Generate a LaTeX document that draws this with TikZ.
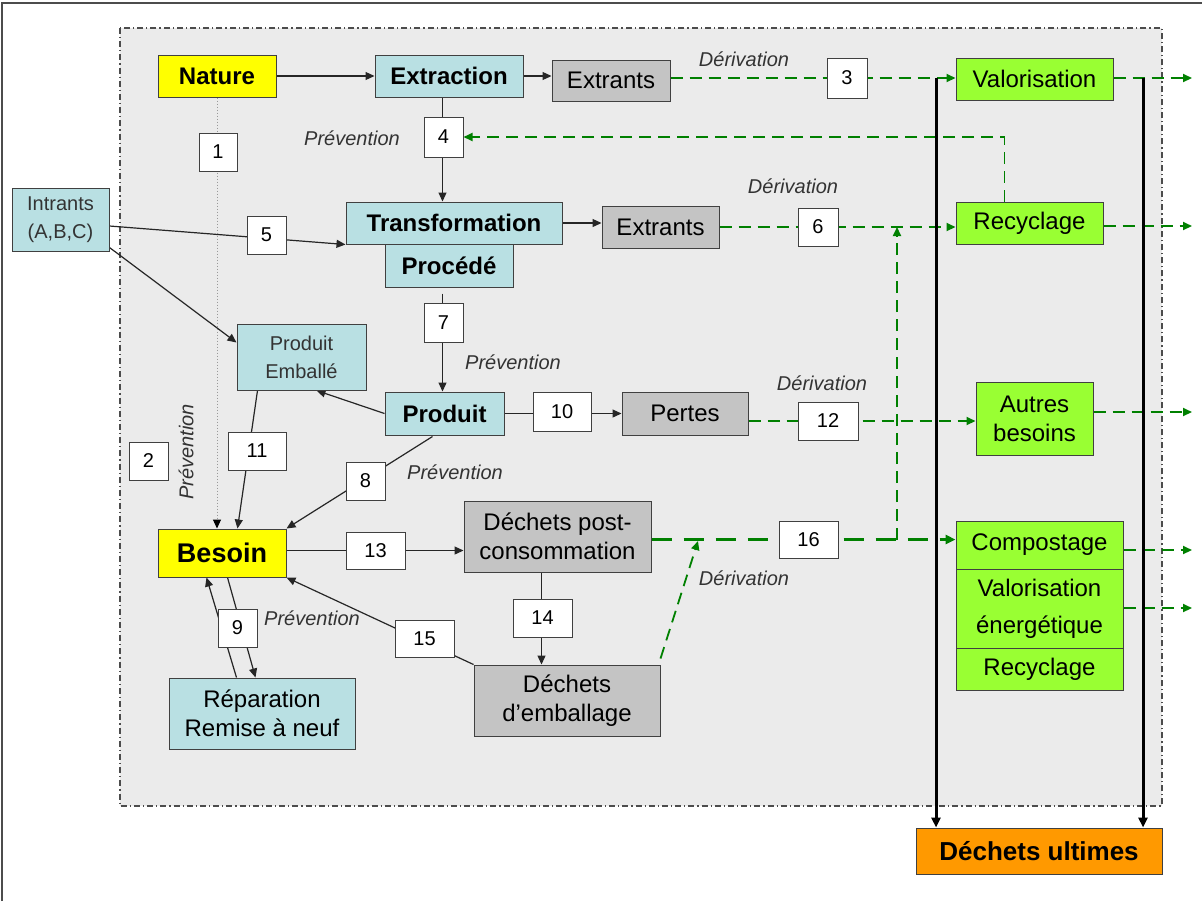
\documentclass[tikz,border=0pt]{standalone}
\usepackage{fontspec}
\setmainfont{Liberation Sans}
\usetikzlibrary{arrows.meta,calc}
\pgfdeclarelayer{bg}
\pgfdeclarelayer{edges}
\pgfsetlayers{bg,edges,main}

\definecolor{yfill}{HTML}{FFFF00}
\definecolor{bfill}{HTML}{B9E0E3}
\definecolor{gfill}{HTML}{C4C4C4}
\definecolor{lfill}{HTML}{99FF33}
\definecolor{ofill}{HTML}{FF9900}
\definecolor{zone}{HTML}{EBEBEB}
\definecolor{dgreen}{HTML}{008000}

% \dbox{style}{name}{left}{top}{right}{bottom}{text}
\newcommand\dbox[7]{%
  \node[#1, minimum width={(#5-#3)*0.5pt}, minimum height={(#6-#4)*0.5pt}]
    (#2) at ({(#3+#5)/2},{(#4+#6)/2}) {#7};}

\begin{document}
\begin{tikzpicture}[x=0.5pt,y=-0.5pt,
  box/.style={draw=black!75, line width=0.5pt, inner sep=1pt, align=center, text=black},
  numbox/.style={box, fill=white, font=\fontsize{10}{12}\selectfont},
  yellowbox/.style={box, fill=yfill, font=\bfseries\fontsize{12}{14}\selectfont},
  bluebold/.style={box, fill=bfill, font=\bfseries\fontsize{12}{14}\selectfont},
  bluesmall/.style={box, fill=bfill, text=black!80, font=\fontsize{10}{14}\selectfont},
  bluebox/.style={box, fill=bfill, font=\fontsize{12}{14.5}\selectfont},
  greybox/.style={box, fill=gfill, font=\fontsize{12}{14.5}\selectfont},
  greenbox/.style={box, fill=lfill, font=\fontsize{12}{14.5}\selectfont},
  orangebox/.style={box, fill=ofill, font=\bfseries\fontsize{13}{15}\selectfont},
  lab/.style={inner sep=0pt, text=black!80, font=\itshape\fontsize{10}{12}\selectfont},
  conn/.style={draw=black!85, line width=0.6pt},
  arr/.style={conn, -{Triangle[length=4.5pt,width=4pt]}},
  dotline/.style={draw=black!40, line width=0.5pt, dash pattern=on 0.5pt off 1pt,
    -{Triangle[length=4.5pt,width=4pt,color=black]}},
  gdash/.style={draw=dgreen, line width=0.9pt, dash pattern=on 6pt off 3.5pt},
  garr/.style={gdash, -{Triangle[length=4.5pt,width=4pt]}},
  gthick/.style={draw=dgreen, line width=1.6pt, dash pattern=on 10pt off 6pt,
    -{Triangle[length=5pt,width=4.5pt]}},
  bigarr/.style={draw=black, line width=1.5pt, -{Triangle[length=5pt,width=4.5pt]}},
  zoneborder/.style={draw=black!70, line width=0.6pt,
    dash pattern=on 3pt off 1.5pt on 0.6pt off 1.5pt},
  frame/.style={draw=black!70, line width=0.8pt}
]
\useasboundingbox (0,0) rectangle (1202,901);

% ---- boxes ----
\dbox{yellowbox}{nature}{158}{55}{276}{97}{Nature}
\dbox{bluebold}{extr}{375}{55}{523}{97}{Extraction}
\dbox{greybox}{ext1}{552}{60}{670}{101}{Extrants}
\dbox{numbox}{b3}{827}{58}{867}{98}{3}
\dbox{greenbox}{valo}{956}{58}{1113}{100}{Valorisation}
\dbox{numbox}{b4}{424}{117}{463}{157}{4}
\dbox{numbox}{b1}{199}{133}{237}{171}{1}
\dbox{bluesmall}{intr}{12}{188}{109}{251}{Intrants\\(A,B,C)}
\dbox{bluebold}{trans}{346}{202}{562}{244}{Transformation}
\dbox{bluebold}{proc}{385}{244}{513}{287}{Procédé}
\dbox{greybox}{ext2}{602}{206}{719}{248}{Extrants}
\dbox{numbox}{b5}{247}{216}{286}{254}{5}
\dbox{numbox}{b6}{798}{208}{838}{246}{6}
\dbox{greenbox}{rec1}{956}{202}{1103}{244}{Recyclage}
\dbox{bluesmall}{pemb}{237}{324}{366}{390}{Produit\\Emballé}
\dbox{numbox}{b7}{424}{303}{463}{342}{7}
\dbox{bluebold}{produit}{385}{392}{504}{435}{Produit}
\dbox{numbox}{b10}{533}{392}{591}{431}{10}
\dbox{greybox}{pertes}{622}{392}{748}{435}{Pertes}
\dbox{numbox}{b12}{798}{402}{858}{440}{12}
\dbox{greenbox}{autres}{976}{382}{1093}{455}{Autres\\besoins}
\dbox{numbox}{b2}{129}{442}{168}{480}{2}
\dbox{numbox}{b11}{228}{432}{286}{470}{11}
\dbox{numbox}{b8}{346}{462}{385}{500}{8}
\dbox{yellowbox, font=\bfseries\fontsize{13.5}{15}\selectfont}{besoin}{158}{529}{286}{577}{Besoin}
\dbox{numbox}{b13}{346}{532}{405}{569}{13}
\dbox{greybox}{dpost}{464}{501}{651}{572}{Déchets post-\\consommation}
\dbox{numbox}{b16}{779}{521}{838}{558}{16}
\dbox{numbox}{b14}{513}{599}{572}{637}{14}
\dbox{numbox}{b15}{395}{620}{454}{657}{15}
\dbox{numbox}{b9}{218}{609}{257}{647}{9}
\dbox{greybox}{demb}{474}{665}{660}{736}{Déchets\\d’emballage}
\dbox{bluebox}{rep}{169}{678}{355}{749}{Réparation\\Remise à neuf}
\dbox{greenbox}{comp}{956}{521}{1123}{569}{Compostage}
\dbox{greenbox, font=\fontsize{12}{18.5}\selectfont}{valen}{956}{569}{1123}{648}{Valorisation\\énergétique}
\dbox{greenbox}{rec2}{956}{648}{1123}{690}{Recyclage}
\dbox{orangebox}{ult}{916}{828}{1162}{874}{Déchets ultimes}

% ---- labels ----
\node[lab] (lp1) at (352,138) {Prévention};
\node[lab] (ld1) at (744,59) {Dérivation};
\node[lab] (ld2) at (793,186) {Dérivation};
\node[lab] (lp2) at (513,362) {Prévention};
\node[lab] (ld3) at (822,383) {Dérivation};
\node[lab, rotate=90] (lp3) at (186,452) {Prévention};
\node[lab] (lp4) at (455,472) {Prévention};
\node[lab] (lp5) at (312,618) {Prévention};
\node[lab] (ld4) at (744,578) {Dérivation};

% ---- free ends ----
\coordinate (out1) at (1192,78);
\coordinate (out2) at (1192,226);
\coordinate (out3) at (1192,412);
\coordinate (out4) at (1192,550);
\coordinate (out5) at (1192,608);
\coordinate (vl1) at (936,78);
\coordinate (vl2) at (1143,78);
\coordinate (vsplit) at (897,540);
\coordinate (dmerge) at (698,541);

% ---- background zone and frame ----
\begin{pgfonlayer}{bg}
  \fill[zone] (120,28) rectangle (1162,806);
  \draw[zoneborder] (120,28) rectangle (1162,806);
  \draw[frame] (2,901) -- (2,3) -- (1202,3);
\end{pgfonlayer}

% ---- connectors ----
\begin{pgfonlayer}{edges}
  % main chain
  \draw[arr] (nature) -- (extr);
  \draw[arr] (extr.east) -- (extr.east -| ext1.west);
  \draw[arr] ($(extr.south west)+(68,0)$) -- ($(trans.north west)+(97,0)$);
  \draw[arr] ($(intr.east)+(0,6.5)$) -- (trans.south west);
  \draw[arr] ($(intr.south east)+(0,-4)$) -- ($(pemb.north west)+(0,19)$);
  \draw[arr] (trans.east) -- (trans.east -| ext2.west);
  \draw[arr] ($(proc.south west)+(58,6)$) -- ($(produit.north west)+(58,0)$);
  \draw[arr] (produit.east) -- (produit.east -| pertes.west);
  \draw[arr] (produit.west) -- ($(pemb.south west)+(80,0)$);
  \draw[arr] ($(pemb.south west)+(21,0)$) -- ($(besoin.north west)+(80,0)$);
  \draw[arr] ($(produit.south west)+(48,1)$) -- (besoin.north east);
  \draw[dotline] (nature.south) -- (nature.south |- besoin.north);
  \draw[arr] (besoin.east |- b13) -- (dpost.west |- b13);
  \draw[arr] ($(dpost.south west)+(78,0)$) -- ($(demb.north west)+(68,0)$);
  \draw[arr] (demb.north west) -- (besoin.south east);
  \draw[arr] ($(rep.north west)+(68,0)$) -- ($(besoin.south west)+(49,0)$);
  \draw[arr] ($(besoin.south west)+(70,0)$) -- ($(rep.north west)+(87,0)$);

  % derivation flows
  \draw[garr] (ext1.east |- b3) -- (valo.west |- b3);
  \draw[garr] (ext2.east) -- (ext2.east -| rec1.west);
  \draw[garr] (pertes.east |- b12) -- (autres.west |- b12);
  \draw[gthick] (dpost.east |- b16) -- (comp.west |- b16);
  \draw[garr] (vsplit) -- (vsplit |- ext2.east);
  \draw[garr] ($(demb.north east)+(0,-6)$) -- (dmerge);
  \draw[garr] ($(rec1.north west)+(49,0)$) |- (b4.east);

  % outgoing flows
  \draw[garr] (valo.east |- out1) -- (out1);
  \draw[garr] (rec1.east |- out2) -- (out2);
  \draw[garr] (autres.east |- out3) -- (out3);
  \draw[garr] (comp.east |- out4) -- (out4);
  \draw[garr] (valen.east |- out5) -- (out5);

  % residual waste
  \draw[bigarr] (vl1) -- (vl1 |- ult.north);
  \draw[bigarr] (vl2) -- (vl2 |- ult.north);
\end{pgfonlayer}
\end{tikzpicture}
\end{document}
